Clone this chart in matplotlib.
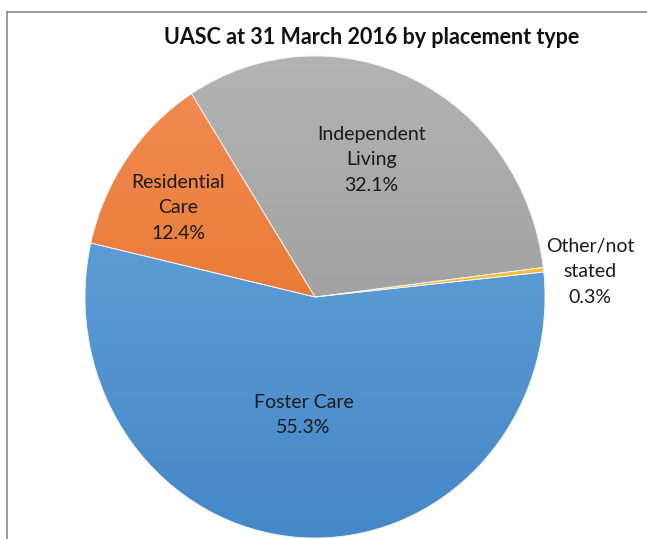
import numpy as np
import matplotlib.pyplot as plt
from matplotlib.lines import Line2D
from matplotlib.colors import LinearSegmentedColormap

# Datos del grafico
categorias = ['Other/not\nstated', 'Independent\nLiving', 'Residential\nCare', 'Foster Care']
porcentajes = [0.3, 32.1, 12.4, 55.3]
colores_arriba = ['#ffc84a', '#b3b3b3', '#f28d55', '#6ba8de']
colores_abajo = ['#f0b000', '#929292', '#e36a1a', '#4588c8']
titulo = 'UASC at 31 March 2016 by placement type'

# posiciones de las etiquetas (coordenadas del eje)
pos_etiquetas = [(1.195, 0.105), (0.245, 0.57), (-0.595, 0.37), (-0.05, -0.49)]

plt.rcParams['font.family'] = ['Lato', 'DejaVu Sans']

fig = plt.figure(figsize=(6.47, 5.39), dpi=100)
ax = fig.add_axes([85 / 647, 1 / 539, 460 / 647, 482 / 539])

wedges, _ = ax.pie(porcentajes, startangle=5.95, counterclock=True,
                   wedgeprops=dict(edgecolor='#f4f4f4', linewidth=0.6))
ax.set_aspect('auto')
ax.axis('off')

# Degradado vertical en cada porcion
grad = np.linspace(1, 0, 256).reshape(-1, 1)
for w, c1, c2 in zip(wedges, colores_arriba, colores_abajo):
    cmap = LinearSegmentedColormap.from_list('g', [c2, c1])
    im = ax.imshow(grad, cmap=cmap, extent=(-1, 1, -1, 1), aspect='auto',
                   origin='upper', zorder=w.get_zorder() + 0.1)
    im.set_clip_path(w)

# contornos encima del degradado
for w in wedges:
    w.set_zorder(5)
    w.set_facecolor('none')

ax.set_xlim(-1, 1)
ax.set_ylim(-1, 1)

for txt, pct, (x, y) in zip(categorias, porcentajes, pos_etiquetas):
    ax.text(x, y, f'{txt}\n{pct}%', ha='center', va='center', fontsize=14,
            color='#1a1a1a', linespacing=1.6, zorder=10, clip_on=False)

fig.text(372 / 647, 1 - 37 / 539, titulo, ha='center', va='center',
         fontsize=15.5, fontweight='bold', color='#111111')

# marco del grafico
fig.add_artist(Line2D([7 / 647, 7 / 647], [0, 1 - 12 / 539], color='#8a8a8a', lw=1.2))
fig.add_artist(Line2D([7 / 647, 1], [1 - 12 / 539, 1 - 12 / 539], color='#8a8a8a', lw=1.2))

fig.savefig('out.png', dpi=100)
